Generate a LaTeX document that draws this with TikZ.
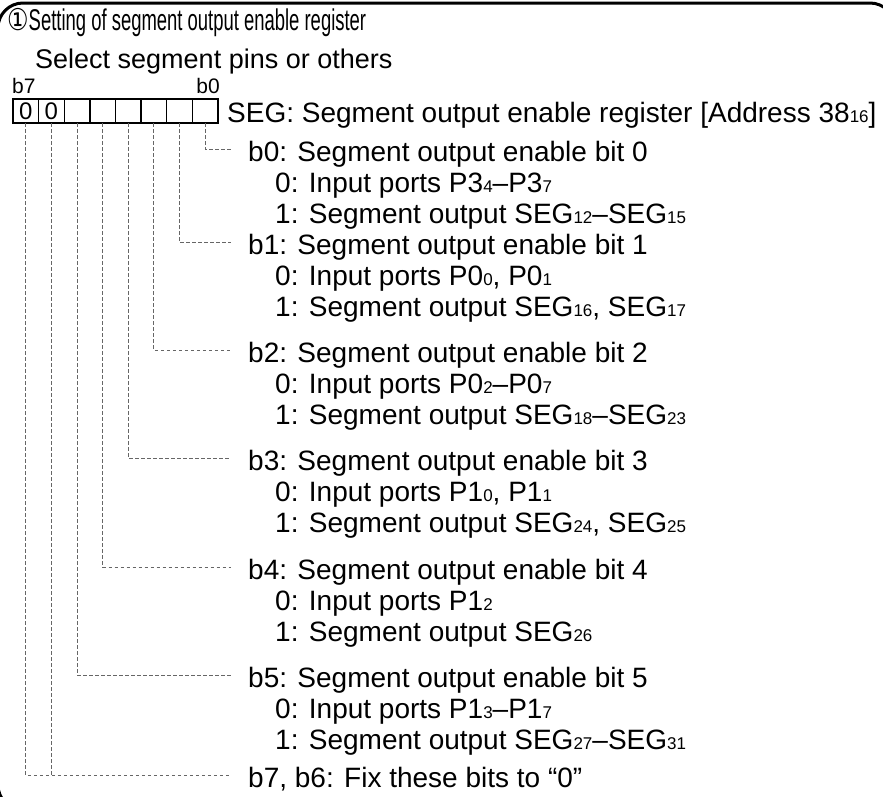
\documentclass[tikz,border=0pt]{standalone}
\usepackage{graphicx}
\usepackage{fontspec}
\setmainfont{Liberation Sans}
\newfontfamily\symfont{DejaVu Sans}
\usetikzlibrary{positioning}
\newcommand{\lo}[1]{{\fontsize{17pt}{17pt}\selectfont #1}}

\begin{document}
\begin{tikzpicture}[x=1pt,y=-1pt,
  cell/.style={draw, line width=1.4pt, minimum width=25.6pt, minimum height=24pt, inner sep=0, outer sep=0, font=\fontsize{24pt}{24pt}\selectfont},
  txt/.style={anchor=base west, inner sep=0, font=\fontsize{28pt}{32pt}\selectfont},
  small/.style={anchor=base west, inner sep=0, font=\fontsize{21pt}{21pt}\selectfont},
  leader/.style={draw=black!60, line width=0.9pt, dash pattern=on 3.5pt off 2.5pt}]
\useasboundingbox (0,0) rectangle (883,796);
\begin{scope}
\clip (0,0) rectangle (883,796);
\draw[line width=3pt, rounded corners=25pt] (-2,3) rectangle (895,810);
\end{scope}

% heading
\node[txt, font=\fontsize{30pt}{34pt}\selectfont] (title) at (7,30) {\scalebox{0.8}[1]{\symfont ①}\scalebox{0.615}[1]{Setting of segment output enable register}};
\node[txt, font=\fontsize{27pt}{30pt}\selectfont] (select) at (35,68) {Select segment pins or others};

% register
\node[small] (lb7) at (12,93) {b7};
\node[small, anchor=base east] (lb0) at (220,93) {b0};
\node[cell] (c7) at (25.8,111) {0};
\node[cell, right=0pt of c7] (c6) {0};
\node[cell, right=0pt of c6] (c5) {};
\node[cell, right=0pt of c5] (c4) {};
\node[cell, right=0pt of c4] (c3) {};
\node[cell, right=0pt of c3] (c2) {};
\node[cell, right=0pt of c2] (c1) {};
\node[cell, right=0pt of c1] (c0) {};
\node[txt] (seg) at (227,122) {SEG: Segment output enable register [Address 38\lo{16}]};

% bit descriptions
\node[txt] (b0t) at (248,161) {b0: Segment output enable bit 0};
\node[txt] (b0z) at (275,192) {0: Input ports P3\lo{4}–P3\lo{7}};
\node[txt] (b0o) at (275,223) {1: Segment output SEG\lo{12}–SEG\lo{15}};

\node[txt] (b1t) at (248,254) {b1: Segment output enable bit 1};
\node[txt] (b1z) at (275,285) {0: Input ports P0\lo{0}, P0\lo{1}};
\node[txt] (b1o) at (275,316) {1: Segment output SEG\lo{16}, SEG\lo{17}};

\node[txt] (b2t) at (248,362) {b2: Segment output enable bit 2};
\node[txt] (b2z) at (275,393) {0: Input ports P0\lo{2}–P0\lo{7}};
\node[txt] (b2o) at (275,424) {1: Segment output SEG\lo{18}–SEG\lo{23}};

\node[txt] (b3t) at (248,470) {b3: Segment output enable bit 3};
\node[txt] (b3z) at (275,501) {0: Input ports P1\lo{0}, P1\lo{1}};
\node[txt] (b3o) at (275,532) {1: Segment output SEG\lo{24}, SEG\lo{25}};

\node[txt] (b4t) at (248,579) {b4: Segment output enable bit 4};
\node[txt] (b4z) at (275,610) {0: Input ports P1\lo{2}};
\node[txt] (b4o) at (275,641) {1: Segment output SEG\lo{26}};

\node[txt] (b5t) at (248,687) {b5: Segment output enable bit 5};
\node[txt] (b5z) at (275,718) {0: Input ports P1\lo{3}–P1\lo{7}};
\node[txt] (b5o) at (275,749) {1: Segment output SEG\lo{27}–SEG\lo{31}};

\node[txt] (b76) at (248,787) {b7, b6: Fix these bits to “0”};

% leaders
\draw[leader] (c0.south) |- ([xshift=-17pt,yshift=12pt]b0t.base west);
\draw[leader] (c1.south) |- ([xshift=-17pt,yshift=12pt]b1t.base west);
\draw[leader] (c2.south) |- ([xshift=-17pt,yshift=12pt]b2t.base west);
\draw[leader] (c3.south) |- ([xshift=-17pt,yshift=12pt]b3t.base west);
\draw[leader] (c4.south) |- ([xshift=-17pt,yshift=12pt]b4t.base west);
\draw[leader] (c5.south) |- ([xshift=-17pt,yshift=12pt]b5t.base west);
\coordinate (fix) at ([xshift=-17pt,yshift=12pt]b76.base west);
\draw[leader] (c7.south) |- (fix);
\draw[leader] (c6.south) -- (c6.south |- fix);
\end{tikzpicture}
\end{document}
